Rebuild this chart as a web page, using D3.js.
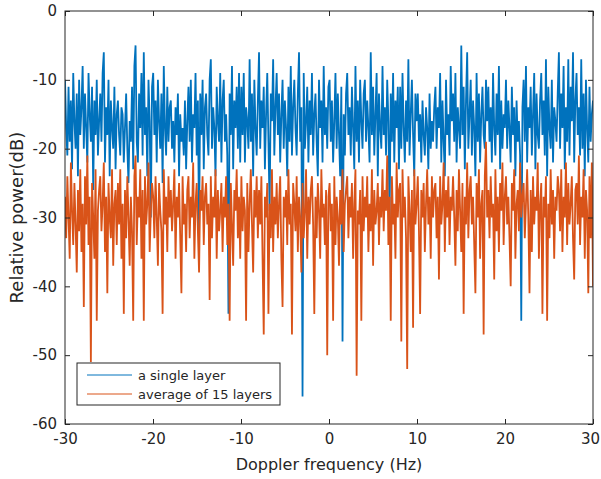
<!DOCTYPE html>
<html>
<head>
<meta charset="utf-8">
<script src="https://cdn.jsdelivr.net/npm/d3@7"></script>
<style>
  body { margin: 0; background: #fff; }
  svg text { font-family: "DejaVu Sans", sans-serif; fill: #262626; }
</style>
</head>
<body>
<div id="chart"></div>
<script>
// frequency axis: bins spread evenly over -30..30 Hz
const freqRange = [-30, 30];
const xTicks = [-30, -20, -10, 0, 10, 20, 30];
const yTicks = [0, -10, -20, -30, -40, -50, -60];
const seriesNames = ["a single layer", "average of 15 layers"];

// a single layer (dB), 15 bins per 2 Hz
const singleLayer = [
  -10,-17,-21,-11,-19,-13,-23,-9,-16,-20,-12,-24,-10,-18,-14,
  -8,-20,-12,-17,-22,-9,-15,-19,-11,-26,-13,-18,-10,-21,-16,
  -12,-19,-9,-6,-22,-14,-18,-10,-24,-13,-17,-20,-11,-23,-15,
  -13,-18,-21,-14,-15,-22,-17,-12,-20,-25,-16,-19,-11,-23,-8,
  -5,-19,-22,-12,-17,-9,-21,-6,-18,-14,-24,-10,-16,-30,-11,
  -9,-18,-13,-22,-10,-16,-20,-12,-25,-8,-17,-21,-11,-19,-14,
  -13,-20,-16,-22,-14,-18,-12,-24,-15,-19,-17,-21,-13,-23,-16,
  -11,-19,-10,-22,-15,-17,-9,-21,-13,-32,-12,-18,-10,-23,-14,
  -12,-18,-21,-10,-7,-20,-14,-17,-24,-11,-16,-19,-9,-22,-13,
  -10,-19,-15,-21,-44,-12,-18,-8,-23,-13,-17,-11,-20,-9,-22,
  -11,-18,-9,-22,-14,-16,-20,-7,-19,-12,-24,-10,-17,-21,-13,
  -6,-20,-13,-17,-11,-23,-15,-9,-19,-29,-12,-16,-7,-21,-14,
  -9,-18,-12,-22,-15,-10,-20,-13,-17,-24,-11,-19,-8,-21,-14,
  -10,-17,-21,-12,-6,-19,-14,-56,-9,-20,-16,-11,-22,-13,-18,
  -9,-21,-15,-12,-19,-24,-10,-17,-13,-22,-8,-18,-14,-20,-11,
  -10,-19,-13,-22,-16,-9,-20,-12,-18,-24,-11,-48,-15,-21,-12,
  -9,-18,-14,-21,-11,-17,-23,-8,-19,-13,-22,-10,-16,-20,-12,
  -10,-19,-13,-17,-22,-6,-18,-11,-21,-15,-9,-24,-12,-17,-20,
  -8,-18,-14,-21,-10,-16,-31,-12,-19,-9,-22,-13,-17,-11,-23,
  -11,-20,-9,-17,-22,-13,-19,-7,-21,-15,-10,-18,-24,-12,-16,
  -12,-19,-15,-22,-13,-18,-21,-14,-17,-23,-12,-20,-16,-19,-14,
  -11,-20,-14,-17,-9,-22,-13,-19,-24,-10,-18,-15,-21,-8,-16,
  -12,-19,-9,-22,-14,-17,-20,-5,-18,-11,-23,-13,-6,-20,-15,
  -10,-21,-13,-17,-24,-9,-19,-12,-22,-15,-11,-18,-20,-10,-16,
  -11,-19,-14,-22,-9,-17,-21,-12,-18,-8,-23,-13,-20,-15,-17,
  -10,-20,-13,-17,-22,-11,-18,-14,-24,-13,-19,-16,-21,-45,-14,
  -10,-19,-8,-22,-14,-17,-11,-21,-15,-9,-23,-12,-18,-20,-13,
  -9,-18,-13,-21,-7,-24,-11,-17,-20,-10,-22,-14,-16,-19,-12,
  -6,-20,-12,-17,-8,-23,-14,-19,-7,-21,-11,-16,-6,-22,-13,
  -9,-18,-14,-21,-7,-20,-12,-24,-10,-17,-22,-11,-19,-15,-13
];

// average of 15 layers (dB), same bins
const averaged = [
  -27,-33,-24,-30,-36,-22,-29,-34,-25,-31,-38,-26,-32,-23,-35,
  -28,-43,-24,-31,-21,-34,-27,-51,-25,-30,-36,-23,-45,-29,-26,
  -24,-32,-28,-22,-35,-27,-41,-25,-30,-33,-23,-37,-28,-26,-34,
  -25,-31,-23,-36,-28,-44,-26,-33,-24,-30,-37,-27,-32,-45,-24,
  -21,-34,-27,-30,-23,-36,-26,-45,-24,-31,-28,-22,-35,-29,-25,
  -27,-33,-24,-30,-37,-25,-29,-32,-44,-23,-31,-27,-35,-24,-30,
  -26,-32,-28,-23,-36,-27,-30,-25,-33,-41,-24,-31,-28,-35,-26,
  -24,-33,-27,-30,-22,-36,-28,-25,-32,-38,-26,-29,-24,-34,-27,
  -25,-31,-28,-42,-24,-33,-27,-30,-23,-36,-26,-32,-29,-25,-35,
  -27,-30,-24,-34,-28,-45,-25,-31,-37,-26,-29,-23,-33,-27,-36,
  -24,-32,-27,-29,-45,-25,-35,-28,-23,-31,-38,-26,-30,-24,-33,
  -26,-31,-24,-36,-47,-27,-30,-25,-44,-28,-33,-23,-35,-27,-31,
  -25,-33,-28,-24,-36,-43,-27,-30,-26,-34,-23,-31,-28,-47,-25,
  -28,-32,-24,-35,-27,-30,-38,-25,-33,-29,-23,-36,-27,-31,-26,
  -24,-31,-44,-27,-33,-25,-29,-36,-23,-30,-28,-34,-26,-50,-27,
  -25,-32,-28,-45,-24,-34,-27,-30,-37,-26,-31,-23,-35,-28,-26,
  -24,-33,-27,-30,-25,-36,-28,-23,-53,-29,-31,-26,-45,-24,-32,
  -27,-30,-24,-35,-28,-32,-23,-37,-26,-31,-29,-25,-34,-27,-30,
  -23,-32,-26,-29,-21,-34,-27,-45,-24,-31,-28,-36,-22,-30,-26,
  -25,-48,-23,-30,-27,-33,-52,-24,-29,-35,-26,-46,-23,-31,-28,
  -24,-32,-44,-26,-30,-25,-35,-28,-23,-31,-27,-36,-24,-30,-26,
  -25,-33,-27,-39,-24,-31,-28,-22,-35,-26,-30,-24,-34,-27,-29,
  -24,-30,-37,-26,-32,-23,-29,-35,-25,-44,-27,-31,-22,-33,-26,
  -24,-31,-27,-34,-41,-25,-30,-23,-36,-28,-26,-47,-24,-19,-30,
  -26,-33,-24,-30,-28,-39,-23,-32,-27,-35,-25,-29,-22,-34,-27,
  -24,-31,-27,-33,-40,-25,-29,-23,-36,-28,-26,-32,-22,-30,-27,
  -25,-33,-28,-23,-30,-41,-26,-35,-24,-31,-27,-29,-22,-36,-28,
  -25,-44,-27,-30,-24,-45,-28,-33,-23,-31,-26,-36,-27,-29,-24,
  -26,-32,-23,-35,-27,-30,-22,-34,-25,-31,-28,-24,-33,-39,-26,
  -25,-31,-21,-34,-27,-30,-23,-36,-26,-29,-41,-24,-33,-22,-40
];

const width = 601, height = 479;
const margin = { top: 11, right: 8, bottom: 55, left: 65 };
const w = width - margin.left - margin.right;
const h = height - margin.top - margin.bottom;
const colors = ["#0072BD", "#D95319"];

const svg = d3.select("#chart").append("svg")
  .attr("width", width).attr("height", height);
const g = svg.append("g").attr("transform", `translate(${margin.left},${margin.top})`);

const x = d3.scaleLinear().domain(freqRange).range([0, w]);
const y = d3.scaleLinear().domain([-60, 0]).range([h, 0]);

// bin index -> frequency
const binFreq = n => d3.scaleLinear().domain([0, n - 1]).range(freqRange);

g.append("clipPath").attr("id", "clip")
  .append("rect").attr("width", w).attr("height", h);

// the original trace is far denser than these bins, so draw a bit heavier
[singleLayer, averaged].forEach((vals, k) => {
  const f = binFreq(vals.length);
  const line = d3.line().x((d, i) => x(f(i))).y(d => y(d));
  g.append("path")
    .datum(vals)
    .attr("clip-path", "url(#clip)")
    .attr("d", line)
    .attr("fill", "none")
    .attr("stroke", colors[k])
    .attr("stroke-width", 1.8)
    .attr("stroke-linejoin", "miter")
    .attr("stroke-miterlimit", 2);
});

// axes, MATLAB style: ticks inside, box all round
const axisColor = "#262626";
const styleAxis = sel => {
  sel.select(".domain").remove();
  sel.selectAll(".tick line").attr("stroke", axisColor);
  sel.selectAll(".tick text").style("font-size", "15px").attr("fill", axisColor);
};
const xAxis = g.append("g").attr("transform", `translate(0,${h})`)
  .call(d3.axisBottom(x).tickValues(xTicks).tickSizeInner(-5).tickSizeOuter(0).tickPadding(9))
  .call(styleAxis);
g.append("g")
  .call(d3.axisTop(x).tickValues(xTicks).tickSizeInner(-5).tickSizeOuter(0).tickFormat(""))
  .call(styleAxis);
g.append("g")
  .call(d3.axisLeft(y).tickValues(yTicks).tickSizeInner(-5).tickSizeOuter(0).tickPadding(8))
  .call(styleAxis);
g.append("g").attr("transform", `translate(${w},0)`)
  .call(d3.axisRight(y).tickValues(yTicks).tickSizeInner(-5).tickSizeOuter(0).tickFormat(""))
  .call(styleAxis);
g.selectAll(".tick text").text(function () { return this.textContent.replace("−", "-"); });
// keep the last x label inside the window
xAxis.selectAll(".tick text").filter(d => d === 30).attr("dx", "-0.2em");

g.append("rect").attr("width", w).attr("height", h)
  .attr("fill", "none").attr("stroke", axisColor).attr("stroke-width", 1);

// axis titles
svg.append("text")
  .attr("x", margin.left + w / 2).attr("y", 470)
  .attr("text-anchor", "middle").style("font-size", "16px")
  .text("Doppler frequency (Hz)");
svg.append("text")
  .attr("transform", `translate(23,${margin.top + h / 2}) rotate(-90)`)
  .attr("text-anchor", "middle").style("font-size", "18px")
  .text("Relative power(dB)");

// legend
const legend = svg.append("g").attr("transform", "translate(77,363)");
legend.append("rect").attr("width", 203).attr("height", 42)
  .attr("fill", "#fff").attr("stroke", axisColor).attr("stroke-width", 1);
seriesNames.forEach((name, i) => {
  const row = legend.append("g").attr("transform", `translate(0,${12 + i * 19})`);
  row.append("line").attr("x1", 10).attr("x2", 55)
    .attr("stroke", colors[i]).attr("stroke-width", 1);
  row.append("text").attr("x", 61).attr("dy", "0.35em")
    .style("font-size", "13px").text(name);
});
</script>
</body>
</html>
